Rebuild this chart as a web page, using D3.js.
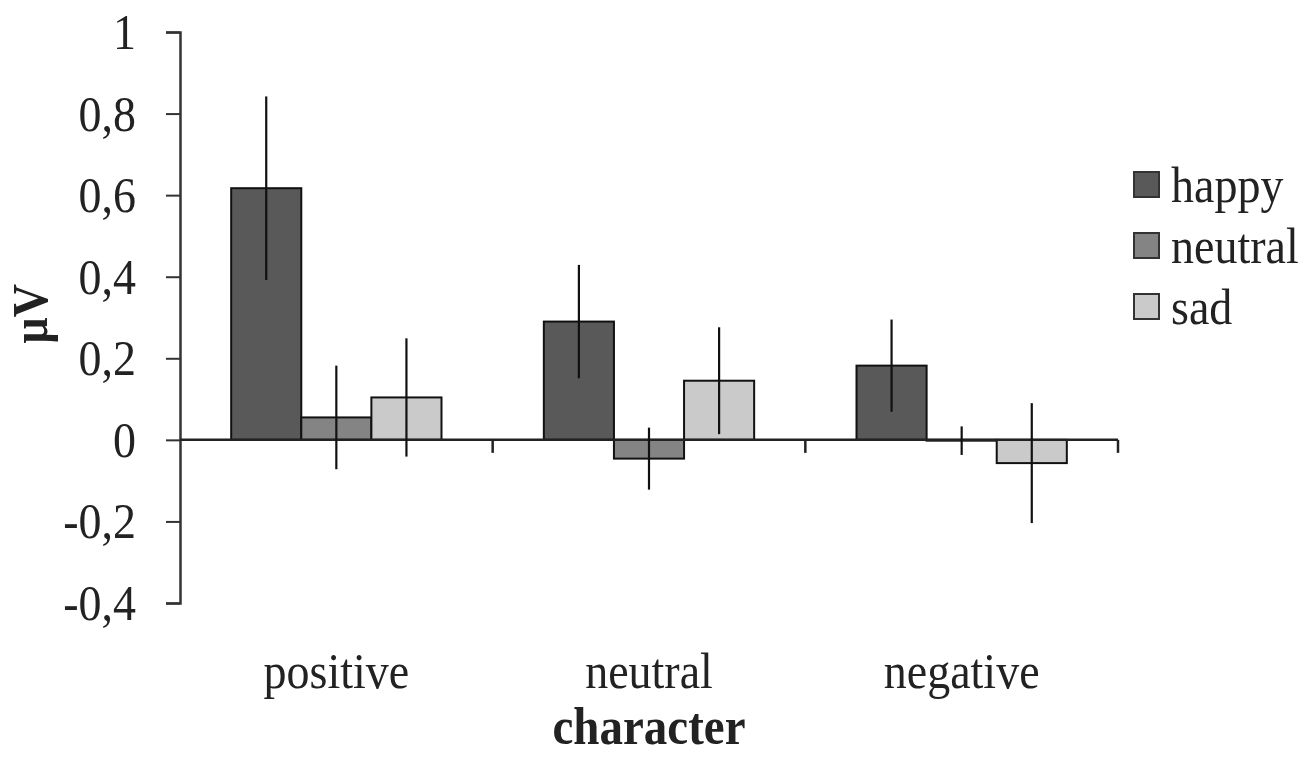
<!DOCTYPE html>
<html>
<head>
<meta charset="utf-8">
<script src="https://cdn.jsdelivr.net/npm/d3@7"></script>
<style>
  body { margin: 0; background: #fff; }
  text { font-family: "Liberation Serif", "Times New Roman", serif; fill: #222; }
</style>
</head>
<body>
<div id="chart"></div>
<script>
// data
var categories = ["positive", "neutral", "negative"];
var series = ["happy", "neutral", "sad"];
var happyVals = [0.617, 0.29, 0.182];
var neutralVals = [0.055, -0.046, -0.002];
var sadVals = [0.104, 0.145, -0.057];
var happyErr = [0.225, 0.139, 0.113];
var neutralErr = [0.127, 0.076, 0.035];
var sadErr = [0.145, 0.131, 0.147];
var yTicks = [-0.4, -0.2, 0, 0.2, 0.4, 0.6, 0.8, 1];

var colors = { happy: "#595959", neutral: "#848484", sad: "#cacaca" };

var svgWidth = 1311;
var svgHeight = 759;
var stretch = 1.12;   // the reference text is a bit taller than plain Times

var svg = d3.select("#chart")
  .append("svg")
  .attr("width", svgWidth)
  .attr("height", svgHeight);

var vals = { happy: happyVals, neutral: neutralVals, sad: sadVals };
var errs = { happy: happyErr, neutral: neutralErr, sad: sadErr };

var data = [];
categories.forEach((c, i) => {
  series.forEach(s => {
    data.push({ cat: c, ser: s, v: vals[s][i], e: errs[s][i] });
  });
});

// scales
var x0 = d3.scaleBand().domain(categories).range([180, 1118]);
var x1 = d3.scaleBand().domain(series).range([0, x0.bandwidth()]).paddingOuter(0.73);
var y = d3.scaleLinear().domain([-0.4, 1]).range([603, 32]);

// y axis
var yAxis = svg.append("g")
  .attr("transform", "translate(180,0)")
  .call(d3.axisLeft(y).tickValues(yTicks).tickSize(14).tickPadding(30)
    .tickFormat(d => String(d).replace(".", ",")));
yAxis.select(".domain").attr("stroke", "#333").attr("stroke-width", 2.5);
yAxis.selectAll(".tick line").attr("stroke", "#333").attr("stroke-width", 2);
yAxis.selectAll(".tick text")
  .style("font-size", "46px")
  .attr("fill", "#222")
  .attr("transform", `scale(1, ${stretch})`)
  .style("font-family", "'Liberation Serif', serif");

// bars
svg.append("g").selectAll("rect")
  .data(data)
  .enter()
  .append("rect")
  .attr("x", d => x0(d.cat) + x1(d.ser))
  .attr("y", d => y(Math.max(0, d.v)))
  .attr("width", x1.bandwidth())
  .attr("height", d => Math.abs(y(d.v) - y(0)))
  .attr("fill", d => colors[d.ser])
  .attr("stroke", "#111")
  .attr("stroke-width", 2);

// x axis line + category ticks
svg.append("line")
  .attr("x1", x0.range()[0]).attr("x2", x0.range()[1])
  .attr("y1", y(0)).attr("y2", y(0))
  .attr("stroke", "#222").attr("stroke-width", 2.5);

svg.append("g").selectAll("line")
  .data(categories.slice(1).concat(["end"]))
  .enter()
  .append("line")
  .attr("x1", d => d === "end" ? x0.range()[1] : x0(d))
  .attr("x2", d => d === "end" ? x0.range()[1] : x0(d))
  .attr("y1", y(0))
  .attr("y2", y(0) + 13)
  .attr("stroke", "#222").attr("stroke-width", 2.5);

// error bars
svg.append("g").selectAll("line")
  .data(data)
  .enter()
  .append("line")
  .attr("x1", d => x0(d.cat) + x1(d.ser) + x1.bandwidth() / 2)
  .attr("x2", d => x0(d.cat) + x1(d.ser) + x1.bandwidth() / 2)
  .attr("y1", d => y(d.v + d.e))
  .attr("y2", d => y(d.v - d.e))
  .attr("stroke", "#111").attr("stroke-width", 2.2);

// category labels
svg.append("g").selectAll("text")
  .data(categories)
  .enter()
  .append("text")
  .attr("transform", d => `translate(${x0(d) + x0.bandwidth() / 2}, 688) scale(1, ${stretch})`)
  .attr("text-anchor", "middle")
  .style("font-size", "46px")
  .text(d => d);

// axis titles
svg.append("text")
  .attr("transform", `translate(${x0(categories[1]) + x0.bandwidth() / 2}, 744) scale(1, ${stretch})`)
  .attr("text-anchor", "middle")
  .style("font-size", "47px")
  .style("font-weight", "bold")
  .text("character");

svg.append("text")
  .attr("transform", `translate(47,314) rotate(-90) scale(1, ${stretch})`)
  .attr("text-anchor", "middle")
  .style("font-size", "46px")
  .style("font-weight", "bold")
  .text("µV");

// legend
var legend = svg.append("g").selectAll("g")
  .data(series)
  .enter()
  .append("g")
  .attr("transform", (d, i) => `translate(1134, ${172 + i * 61})`);

legend.append("rect")
  .attr("width", 25).attr("height", 25)
  .attr("fill", d => colors[d])
  .attr("stroke", "#333").attr("stroke-width", 2);

legend.append("text")
  .attr("transform", `translate(37, 30) scale(1, ${stretch})`)
  .style("font-size", "46px")
  .text(d => d);
</script>
</body>
</html>
